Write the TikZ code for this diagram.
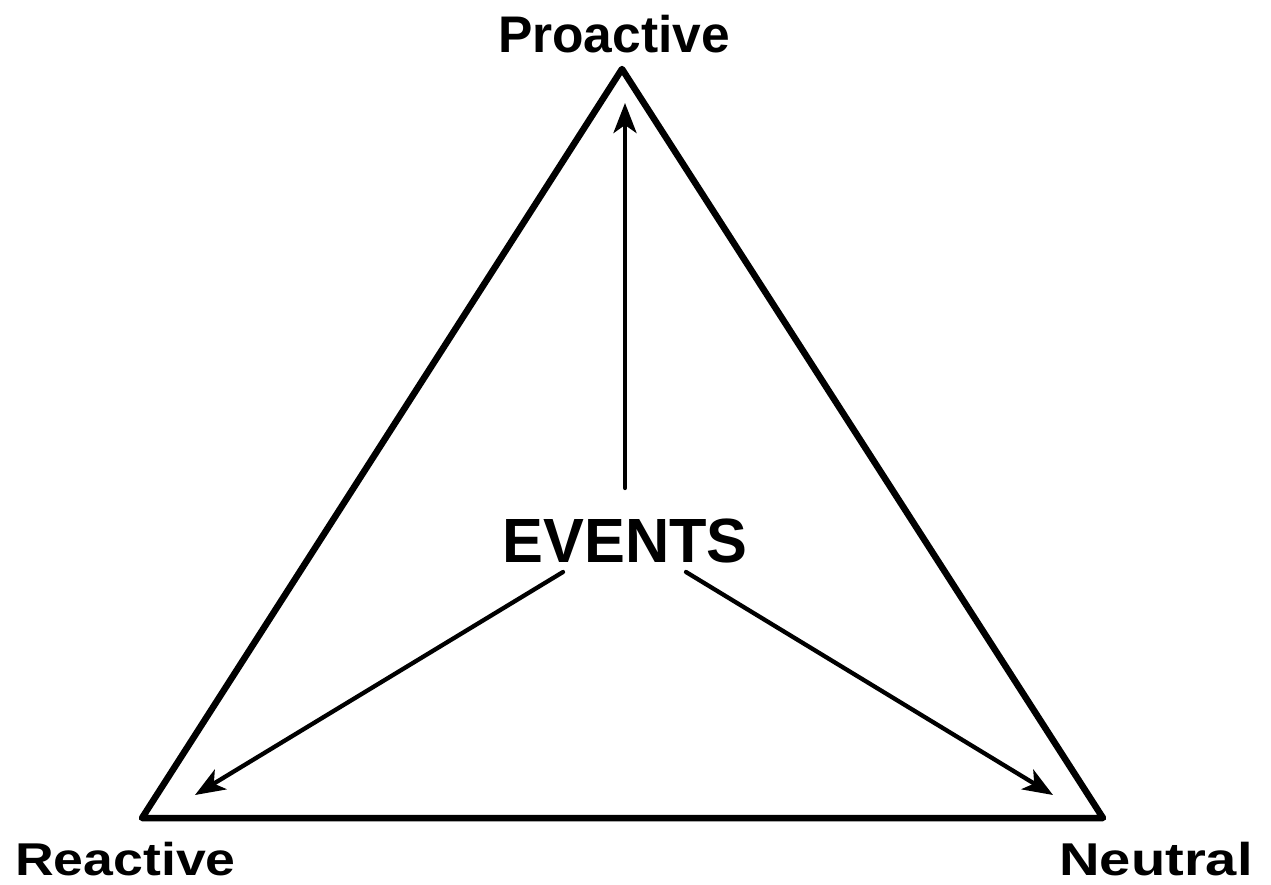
\documentclass[tikz,border=0pt]{standalone}
\usepackage{fontspec}
\setmainfont{Liberation Sans}
\usetikzlibrary{arrows.meta}
\begin{document}
\begin{tikzpicture}[x=1pt,y=-1pt,
  lbl/.style={inner sep=0pt,text depth=0pt,font=\fontsize{46}{46}\selectfont\bfseries},
  prolbl/.style={inner sep=0pt,text depth=0pt,font=\fontsize{51.5}{51.5}\selectfont\bfseries},
  evlbl/.style={inner sep=0pt,text depth=0pt,font=\fontsize{62.5}{62.5}\selectfont\bfseries},
  tri/.style={line width=6.5pt,line join=round},
  arr/.style={line width=4.3pt,line cap=round,-{Stealth[length=30pt,width=23pt,inset=8pt]}}]
\useasboundingbox (0,0) rectangle (1271,884);
\coordinate (top) at (622,69);
\coordinate (bl) at (142,818);
\coordinate (br) at (1103,818);
\draw[tri] (top) -- (bl) -- (br) -- cycle;
\node[prolbl,anchor=base] (pro) at (614,52) {Proactive};
\node[lbl,anchor=base west] (rea) at (15,875) {\scalebox{1.165}[1]{Reactive}};
\node[lbl,anchor=base east] (neu) at (1253,875) {\scalebox{1.22}[1]{Neutral}};
\node[evlbl,anchor=base] (ev) at (625,562) {\scalebox{0.98}[1]{EVENTS}};
\coordinate (s1) at (625,488);
\coordinate (t1) at (625,103);
\coordinate (s2) at (563,572);
\coordinate (t2) at (195,795);
\coordinate (s3) at (686,572);
\coordinate (t3) at (1053,795);
\draw[arr] (s1) -- (t1);
\draw[arr] (s2) -- (t2);
\draw[arr] (s3) -- (t3);
\end{tikzpicture}
\end{document}
